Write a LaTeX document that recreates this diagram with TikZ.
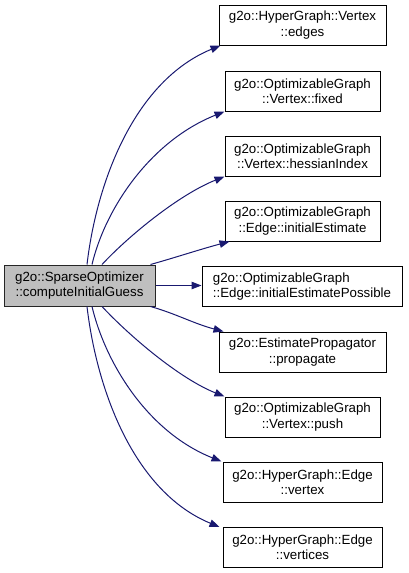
\documentclass[tikz,border=0pt]{standalone}
\usepackage{fontspec}
\setmainfont{Liberation Sans}
\usetikzlibrary{arrows.meta}
\definecolor{edgeblue}{HTML}{191970}
\definecolor{mainfill}{HTML}{BFBFBF}
\tikzset{
  fn/.style={draw=black, line width=1pt, fill=white, inner sep=0pt, minimum height=40pt,
    align=center, font=\fontsize{13.3}{15.2}\selectfont},
  mainfn/.style={fn, fill=mainfill, draw=black!85},
  call/.style={draw=edgeblue, line width=1pt, -{Triangle[length=10pt,width=7.5pt]}}
}
\begin{document}
\begin{tikzpicture}[x=1pt,y=-1pt]
\useasboundingbox (0,0) rectangle (408,573);
\node[mainfn, minimum width=151pt, minimum height=41pt] (main) at (79.5,285.5) {g2o::SparseOptimizer\\::computeInitialGuess};
\node[fn, minimum width=167pt] (n1) at (302.5,25) {g2o::HyperGraph::Vertex\\::edges};
\node[fn, minimum width=155pt] (n2) at (302.5,91) {g2o::OptimizableGraph\\::Vertex::fixed};
\node[fn, minimum width=155pt] (n3) at (302.5,156) {g2o::OptimizableGraph\\::Vertex::hessianIndex};
\node[fn, minimum width=155pt] (n4) at (302.5,221) {g2o::OptimizableGraph\\::Edge::initialEstimate};
\node[fn, minimum width=200pt, align=left] (n5) at (302,286.5) {g2o::OptimizableGraph\\::Edge::initialEstimatePossible};
\node[fn, minimum width=167pt] (n6) at (302.5,352) {g2o::EstimatePropagator\\::propagate};
\node[fn, minimum width=155pt] (n7) at (302.5,417) {g2o::OptimizableGraph\\::Vertex::push};
\node[fn, minimum width=159pt] (n8) at (302.5,482) {g2o::HyperGraph::Edge\\::vertex};
\node[fn, minimum width=159pt] (n9) at (302.5,547.5) {g2o::HyperGraph::Edge\\::vertices};

\draw[call] ([xshift=7.5pt]main.north) .. controls +(10,-85) and +(-85,35) .. ([xshift=2pt]n1.south west);
\draw[call] ([xshift=12.5pt]main.north) .. controls +(13,-55) and +(-75,30) .. (n2.south west);
\draw[call] ([xshift=22.5pt]main.north) .. controls +(28,-30) and +(-45,18) .. (n3.south west);
\draw[call] ([xshift=-5pt]main.north east) .. controls +(25,-7) and +(-30,8) .. ([xshift=5pt]n4.south west);
\draw[call] (main.east) -- (main.east -| n5.west);
\draw[call] ([xshift=-5pt]main.south east) .. controls +(25,7) and +(-30,-8) .. ([xshift=5pt]n6.north west);
\draw[call] ([xshift=22.5pt]main.south) .. controls +(28,30) and +(-45,-18) .. (n7.north west);
\draw[call] ([xshift=12.5pt]main.south) .. controls +(13,55) and +(-75,-30) .. ([xshift=-1pt]n8.north west);
\draw[call] ([xshift=7.5pt]main.south) .. controls +(10,85) and +(-85,-35) .. ([xshift=-3pt]n9.north west);
\end{tikzpicture}
\end{document}
